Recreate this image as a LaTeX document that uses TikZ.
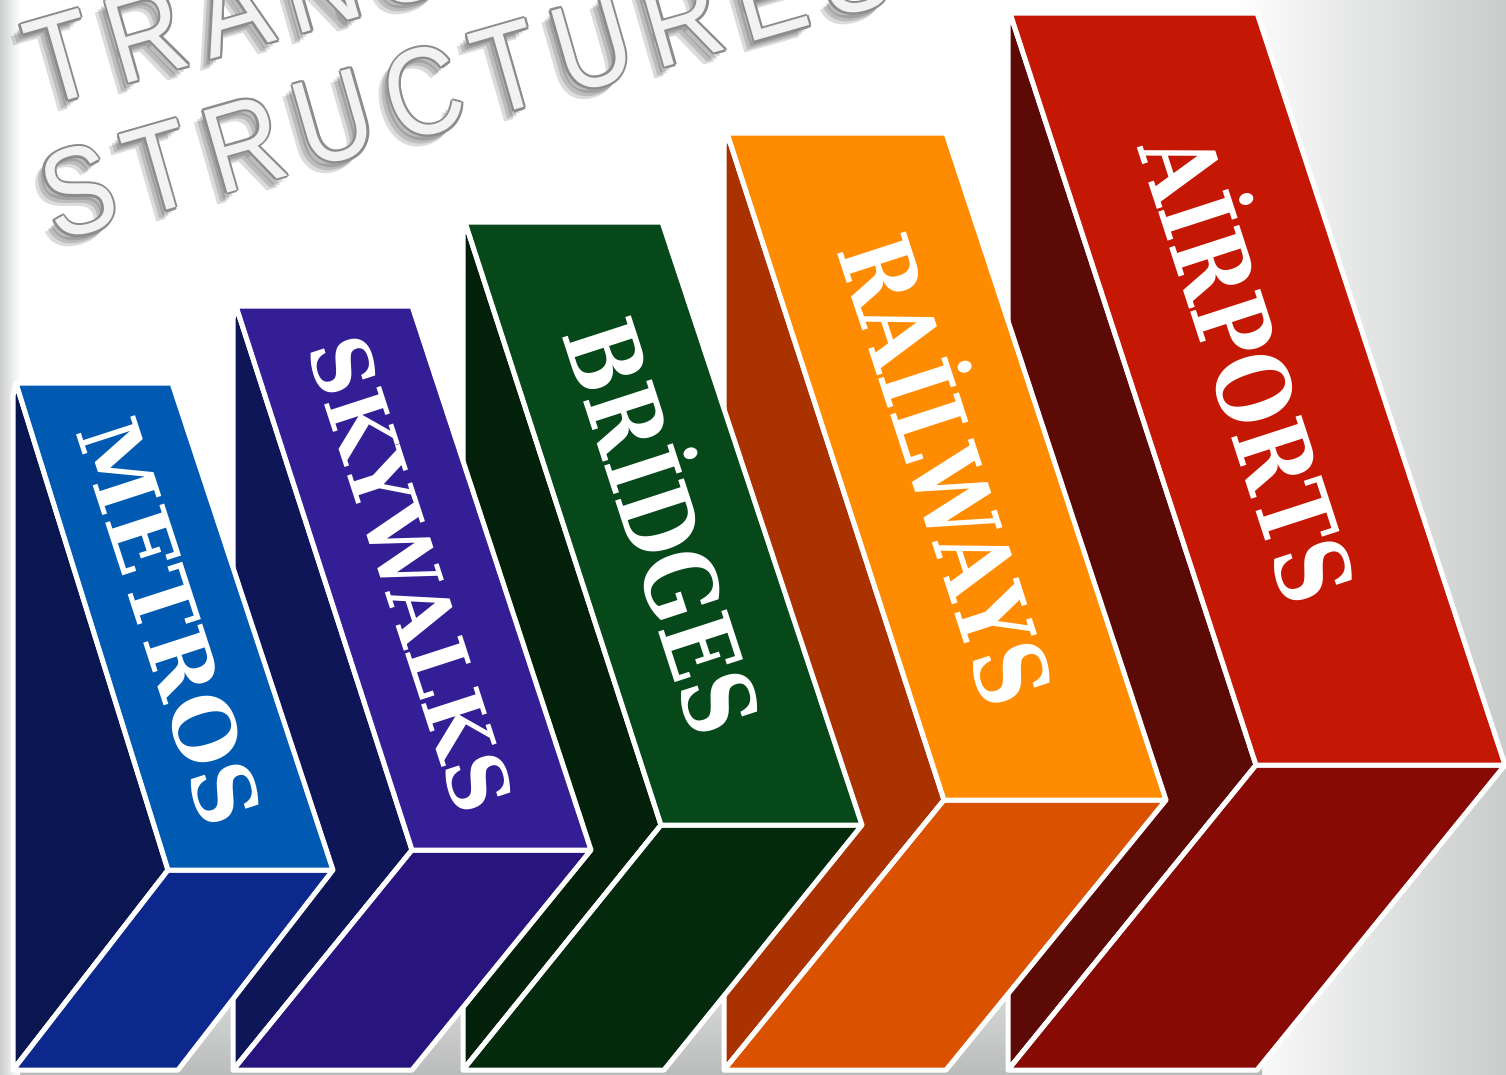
\documentclass[tikz,border=0pt]{standalone}
\usepackage{fontspec}
\setmainfont{DejaVu Serif}
\newfontfamily\titlefont[FakeStretch=0.85, LetterSpace=14]{Liberation Sans}
\newfontfamily\labelfont{DejaVu Serif}
\definecolor{metTop}{RGB}{0,90,178}
\definecolor{metSide}{RGB}{9,22,80}
\definecolor{metFront}{RGB}{12,40,140}
\definecolor{skyTop}{RGB}{52,30,150}
\definecolor{skySide}{RGB}{14,22,88}
\definecolor{skyFront}{RGB}{40,20,125}
\definecolor{briTop}{RGB}{6,72,26}
\definecolor{briSide}{RGB}{3,32,10}
\definecolor{briFront}{RGB}{3,42,12}
\definecolor{raiTop}{RGB}{255,140,0}
\definecolor{raiSide}{RGB}{170,50,0}
\definecolor{raiFront}{RGB}{218,82,0}
\definecolor{airTop}{RGB}{196,24,4}
\definecolor{airSide}{RGB}{92,10,6}
\definecolor{airFront}{RGB}{136,10,4}
\definecolor{bgR}{RGB}{200,204,202}
\definecolor{bgB}{RGB}{170,172,172}
\definecolor{bgL}{RGB}{205,207,207}
\tikzset{
  face/.style={draw=white, line width=5pt, line join=round},
  lbl/.style={text=white, rotate=-72, inner sep=0pt, anchor=center, text depth=0pt},
  ttl/.style={font=\titlefont\fontsize{124}{130}\selectfont, rotate=16, anchor=base west, inner sep=0pt},
}
\newcommand\fitword[3]{\resizebox{#1}{\height}{\labelfont\bfseries\fontsize{#2}{#2}\selectfont #3}}
\begin{document}
\begin{tikzpicture}[x=1pt,y=-1pt]
\useasboundingbox (0,0) rectangle (1506,1074);
\clip (0,0) rectangle (1506,1074);
% background
\fill[white] (0,0) rectangle (1506,1074);
\shade[left color=white, right color=bgR] (1230,0) rectangle (1506,1074);
\shade[top color=white, bottom color=bgB, opacity=0.8] (0,880) rectangle (1262,1074);
\shade[left color=bgL, right color=white] (0,0) rectangle (20,1074);

% title
\foreach \dx/\dy [count=\i] in {-10/12,-7/9,-4/6} {
  \node[ttl, text=black, opacity=0.14] (shA\i) at ({42+\dx},{108+\dy}) {TRANSPORTATION};
  \node[ttl, text=black, opacity=0.14] (shB\i) at ({56+\dx},{242+\dy}) {STRUCTURES};
}
\foreach \dx/\dy [count=\i] in {2.2/0,-2.2/0,0/2.2,0/-2.2,1.6/1.6,-1.6/1.6,1.6/-1.6,-1.6/-1.6} {
  \node[ttl, text=black!45] (olA\i) at ({42+\dx},{108+\dy}) {TRANSPORTATION};
  \node[ttl, text=black!45] (olB\i) at ({56+\dx},{242+\dy}) {STRUCTURES};
}
\node[ttl, text=gray!10] (titleA) at (42,108) {TRANSPORTATION};
\node[ttl, text=gray!10] (titleB) at (56,242) {STRUCTURES};

% AIRPORTS
\coordinate (aA) at (1010,13);
\coordinate (aB) at (1257,13);
\coordinate (aC) at (1505,765);
\coordinate (aD) at (1256,765);
\coordinate (aL) at (1008,26);
\coordinate (aE) at (1008,1070);
\coordinate (aF) at (1257,1070);
\path[face, fill=airSide] (aA) -- (aD) -- (aE) -- (aL) -- cycle;
\path[face, fill=airFront] (aD) -- (aC) -- (aF) -- (aE) -- cycle;
\path[face, fill=airTop] (aA) -- (aB) -- (aC) -- (aD) -- cycle;
\node[lbl, text height=74pt] (airLbl) at (1248,368) {\fitword{486pt}{101}{AİRPORTS}};

% RAILWAYS
\coordinate (rA) at (727,133);
\coordinate (rB) at (946,133);
\coordinate (rC) at (1166,800);
\coordinate (rD) at (944,800);
\coordinate (rL) at (724,146);
\coordinate (rE) at (724,1070);
\coordinate (rF) at (946,1070);
\path[face, fill=raiSide] (rA) -- (rD) -- (rE) -- (rL) -- cycle;
\path[face, fill=raiFront] (rD) -- (rC) -- (rF) -- (rE) -- cycle;
\path[face, fill=raiTop] (rA) -- (rB) -- (rC) -- (rD) -- cycle;
\node[lbl, text height=72pt] (raiLbl) at (946,470) {\fitword{486pt}{99}{RAİLWAYS}};

% BRIDGES
\coordinate (bA) at (465,222);
\coordinate (bB) at (662,222);
\coordinate (bC) at (862,825);
\coordinate (bD) at (661,825);
\coordinate (bL) at (463,236);
\coordinate (bE) at (463,1070);
\coordinate (bF) at (664,1070);
\path[face, fill=briSide] (bA) -- (bD) -- (bE) -- (bL) -- cycle;
\path[face, fill=briFront] (bD) -- (bC) -- (bF) -- (bE) -- cycle;
\path[face, fill=briTop] (bA) -- (bB) -- (bC) -- (bD) -- cycle;
\node[lbl, text height=72pt] (briLbl) at (662,527) {\fitword{428pt}{99}{BRİDGES}};

% SKYWALKS
\coordinate (sA) at (236,306);
\coordinate (sB) at (412,306);
\coordinate (sC) at (591,850);
\coordinate (sD) at (412,850);
\coordinate (sL) at (233,319);
\coordinate (sE) at (233,1070);
\coordinate (sF) at (412,1070);
\path[face, fill=skySide] (sA) -- (sD) -- (sE) -- (sL) -- cycle;
\path[face, fill=skyFront] (sD) -- (sC) -- (sF) -- (sE) -- cycle;
\path[face, fill=skyTop] (sA) -- (sB) -- (sC) -- (sD) -- cycle;
\node[lbl, text height=60pt] (skyLbl) at (411,574) {\fitword{494pt}{82}{SKYWALKS}};

% METROS
\coordinate (mA) at (16,383);
\coordinate (mB) at (172,383);
\coordinate (mC) at (333,870);
\coordinate (mD) at (168,870);
\coordinate (mL) at (13,396);
\coordinate (mE) at (13,1070);
\coordinate (mF) at (178,1070);
\path[face, fill=metSide] (mA) -- (mD) -- (mE) -- (mL) -- cycle;
\path[face, fill=metFront] (mD) -- (mC) -- (mF) -- (mE) -- cycle;
\path[face, fill=metTop] (mA) -- (mB) -- (mC) -- (mD) -- cycle;
\node[lbl, text height=62pt] (metLbl) at (170,622) {\fitword{420pt}{85}{METROS}};
\end{tikzpicture}
\end{document}
